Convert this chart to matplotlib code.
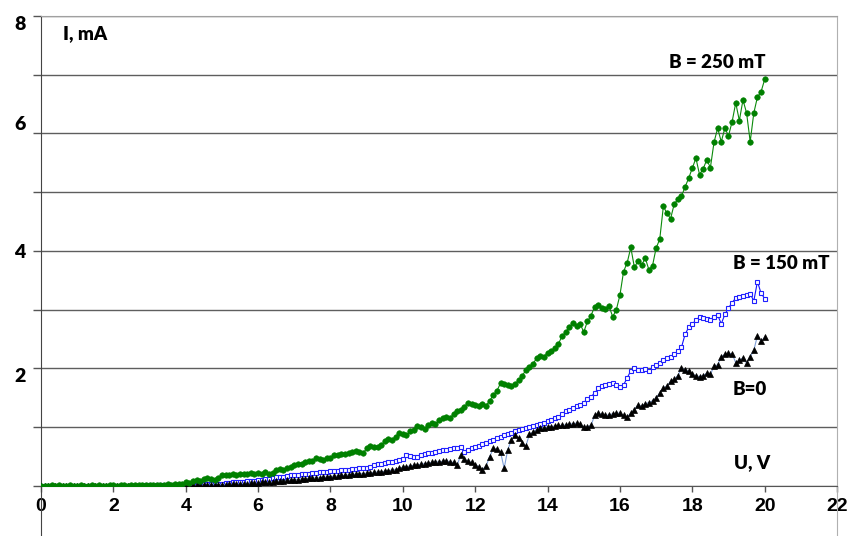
import numpy as np
import matplotlib.pyplot as plt

# voltage grid, 0.1 V step
voltage = np.round(np.arange(0, 201) * 0.1, 1)

# current, mA, B = 250 mT
i_250 = [
    0.00, 0.00, 0.00, 0.01, 0.00, 0.01, 0.00, 0.00, 0.01, 0.00,
    0.00, 0.01, 0.00, 0.00, 0.01, 0.00, 0.01, 0.00, 0.00, 0.01,
    0.01, 0.00, 0.01, 0.01, 0.00, 0.01, 0.01, 0.02, 0.01, 0.01,
    0.01, 0.02, 0.01, 0.02, 0.02, 0.03, 0.02, 0.03, 0.04, 0.03,
    0.06, 0.05, 0.08, 0.10, 0.09, 0.12, 0.14, 0.12, 0.10, 0.13,
    0.18, 0.19, 0.19, 0.20, 0.19, 0.21, 0.20, 0.21, 0.22, 0.20,
    0.22, 0.21, 0.24, 0.21, 0.22, 0.27, 0.29, 0.28, 0.31, 0.33,
    0.36, 0.38, 0.37, 0.41, 0.43, 0.42, 0.47, 0.46, 0.45, 0.48,
    0.47, 0.52, 0.53, 0.55, 0.54, 0.57, 0.58, 0.59, 0.58, 0.56,
    0.64, 0.68, 0.67, 0.66, 0.70, 0.76, 0.80, 0.79, 0.84, 0.90,
    0.88, 0.86, 0.93, 0.95, 1.02, 1.00, 0.97, 1.03, 1.07, 1.05,
    1.12, 1.15, 1.18, 1.16, 1.22, 1.28, 1.30, 1.35, 1.42, 1.40,
    1.38, 1.36, 1.40, 1.37, 1.45, 1.55, 1.62, 1.75, 1.74, 1.72,
    1.70, 1.74, 1.80, 1.88, 1.97, 2.03, 2.08, 2.18, 2.22, 2.20,
    2.27, 2.30, 2.35, 2.42, 2.55, 2.62, 2.70, 2.78, 2.72, 2.76,
    2.62, 2.80, 2.90, 3.05, 3.08, 3.03, 3.02, 3.06, 2.88, 3.00,
    3.25, 3.65, 3.80, 4.06, 3.72, 3.83, 3.76, 3.88, 3.68, 3.75,
    4.05, 4.20, 4.76, 4.64, 4.55, 4.80, 4.88, 4.93, 5.09, 5.24,
    5.41, 5.58, 5.30, 5.40, 5.55, 5.42, 5.85, 6.09, 5.86, 6.09,
    5.96, 6.20, 6.52, 6.22, 6.57, 6.35, 5.86, 6.35, 6.62, 6.71,
    6.92,
]

# current, mA, B = 150 mT
i_150 = [
    0.00, 0.00, 0.00, 0.00, 0.00, 0.00, 0.00, 0.00, 0.00, 0.00,
    0.00, 0.00, 0.00, 0.00, 0.00, 0.00, 0.00, 0.00, 0.00, 0.00,
    0.00, 0.00, 0.00, 0.00, 0.00, 0.00, 0.00, 0.00, 0.00, 0.01,
    0.01, 0.00, 0.01, 0.01, 0.01, 0.01, 0.01, 0.01, 0.02, 0.01,
    0.01, 0.02, 0.02, 0.02, 0.02, 0.03, 0.03, 0.03, 0.04, 0.04,
    0.04, 0.05, 0.05, 0.06, 0.06, 0.06, 0.07, 0.08, 0.09, 0.09,
    0.10, 0.11, 0.12, 0.12, 0.14, 0.15, 0.15, 0.16, 0.17, 0.18,
    0.18, 0.19, 0.20, 0.20, 0.21, 0.22, 0.22, 0.23, 0.24, 0.24,
    0.25, 0.26, 0.26, 0.27, 0.28, 0.28, 0.29, 0.29, 0.30, 0.30,
    0.30, 0.32, 0.35, 0.37, 0.38, 0.39, 0.40, 0.41, 0.42, 0.44,
    0.46, 0.52, 0.51, 0.50, 0.50, 0.53, 0.55, 0.56, 0.57, 0.58,
    0.60, 0.61, 0.62, 0.63, 0.64, 0.65, 0.67, 0.58, 0.62, 0.64,
    0.66, 0.68, 0.72, 0.74, 0.76, 0.79, 0.82, 0.84, 0.86, 0.88,
    0.90, 0.93, 0.95, 0.97, 0.98, 1.00, 1.02, 1.03, 1.05, 1.07,
    1.10, 1.12, 1.15, 1.18, 1.22, 1.28, 1.30, 1.33, 1.36, 1.38,
    1.42, 1.48, 1.52, 1.58, 1.66, 1.70, 1.72, 1.74, 1.75, 1.72,
    1.68, 1.72, 1.84, 1.96, 2.00, 1.98, 1.97, 1.99, 1.95, 2.02,
    2.06, 2.10, 2.14, 2.18, 2.20, 2.24, 2.30, 2.36, 2.58, 2.70,
    2.76, 2.82, 2.88, 2.86, 2.85, 2.83, 2.88, 2.91, 2.76, 2.92,
    3.03, 3.12, 3.20, 3.22, 3.24, 3.25, 3.27, 3.15, 3.48, 3.28,
    3.19,
]

# current, mA, B = 0
i_0 = [
    0.00, 0.00, 0.00, 0.00, 0.00, 0.00, 0.00, 0.00, 0.00, 0.00,
    0.00, 0.00, 0.00, 0.00, 0.00, 0.00, 0.00, 0.00, 0.00, 0.00,
    0.00, 0.00, 0.00, 0.00, 0.00, 0.00, 0.00, 0.00, 0.00, 0.00,
    0.00, 0.00, 0.00, 0.00, 0.00, 0.00, 0.00, 0.00, 0.00, 0.00,
    0.00, 0.00, 0.01, 0.01, 0.01, 0.01, 0.01, 0.02, 0.02, 0.02,
    0.02, 0.02, 0.03, 0.03, 0.03, 0.04, 0.04, 0.04, 0.05, 0.05,
    0.05, 0.06, 0.06, 0.07, 0.07, 0.08, 0.09, 0.09, 0.10, 0.10,
    0.11, 0.11, 0.12, 0.12, 0.13, 0.13, 0.14, 0.14, 0.15, 0.15,
    0.16, 0.17, 0.17, 0.18, 0.18, 0.19, 0.20, 0.20, 0.21, 0.21,
    0.22, 0.22, 0.23, 0.24, 0.24, 0.25, 0.26, 0.27, 0.28, 0.30,
    0.32, 0.33, 0.34, 0.35, 0.36, 0.37, 0.38, 0.39, 0.40, 0.41,
    0.41, 0.42, 0.43, 0.41, 0.40, 0.36, 0.52, 0.46, 0.42, 0.40,
    0.36, 0.33, 0.28, 0.34, 0.50, 0.64, 0.63, 0.58, 0.30, 0.62,
    0.78, 0.86, 0.82, 0.74, 0.68, 0.88, 0.92, 0.96, 0.98, 0.99,
    1.00, 1.01, 1.02, 1.03, 1.03, 1.04, 1.05, 1.06, 1.07, 1.05,
    1.00, 1.01, 1.03, 1.20, 1.24, 1.22, 1.20, 1.21, 1.23, 1.24,
    1.24, 1.20, 1.17, 1.24, 1.30, 1.38, 1.36, 1.40, 1.42, 1.45,
    1.50, 1.58, 1.67, 1.70, 1.78, 1.82, 1.88, 2.00, 1.98, 1.95,
    1.90, 1.88, 1.86, 1.88, 1.92, 1.90, 2.04, 2.06, 2.20, 2.24,
    2.26, 2.25, 2.10, 2.14, 2.18, 2.09, 2.20, 2.31, 2.56, 2.46,
    2.53,
]

x_ticks = [0, 2, 4, 6, 8, 10, 12, 14, 16, 18, 20, 22]
y_ticks = [0, 1, 2, 3, 4, 5, 6, 7, 8]
y_labels = ['', '', '2', '', '4', '', '6', '', '8']

plt.rcParams['font.family'] = 'Liberation Sans'
plt.rcParams['font.weight'] = 'bold'

fig = plt.figure(figsize=(8.6, 5.36), dpi=100)
ax = fig.add_axes([0.0477, 0.0933, 0.9256, 0.8769])

ax.plot(voltage, i_150, color='#1010ff', linewidth=0.8, marker='s', markersize=3.2,
        markerfacecolor='white', markeredgecolor='#2020ff', markeredgewidth=0.8, zorder=3)
ax.plot(voltage, i_0, color='#7f9fd8', linewidth=0.8, marker='^', markersize=4.2,
        markerfacecolor='black', markeredgecolor='black', markeredgewidth=0.5, zorder=4)
ax.plot(voltage, i_250, color='#0a8a0a', linewidth=0.8, marker='o', markersize=4.0,
        markerfacecolor='#008000', markeredgecolor='#008000', markeredgewidth=0.4, zorder=5)

ax.set_xlim(0, 22)
ax.set_ylim(0, 8)
ax.set_xticks(x_ticks)
ax.set_yticks(y_ticks)
ax.grid(axis='y', color='#5e5e5e', linewidth=1.0)
ax.set_axisbelow(True)

ax.tick_params(axis='x', direction='out', length=4, width=1, color='#555555', pad=5)
ax.tick_params(axis='y', direction='out', length=6, width=1, color='#555555', pad=5)

ax.set_xticklabels([str(t) for t in x_ticks], fontfamily='Liberation Sans',
                   fontweight='bold', fontsize=14)
ax.set_yticklabels(y_labels, fontfamily='Lato', fontweight='heavy', fontsize=14)
ylabs = ax.get_yticklabels()
ylabs[8].set_verticalalignment('top')
ylabs[6].set_verticalalignment('bottom')
ylabs[2].set_verticalalignment('top')

ax.spines['top'].set_color('#a0a0a0')
ax.spines['right'].set_color('#b0b0b0')
ax.spines['left'].set_color('#444444')
ax.spines['bottom'].set_color('#555555')
ax.spines['left'].set_bounds(-0.86, 8)
ax.spines['right'].set_bounds(-0.86, 8)

text_font = dict(family='Lato', weight='heavy', size=13.5)
ax.text(0.6, 7.7, 'I, mA', ha='left', va='center', **text_font)
ax.text(18.7, 7.2, 'B = 250 mT', ha='center', va='center', **text_font)
ax.text(20.45, 3.78, 'B = 150 mT', ha='center', va='center', **text_font)
ax.text(19.6, 1.65, 'B=0', ha='center', va='center', **text_font)
ax.text(19.65, 0.4, 'U, V', ha='center', va='center', **text_font)

fig.savefig('out.png', dpi=100)
